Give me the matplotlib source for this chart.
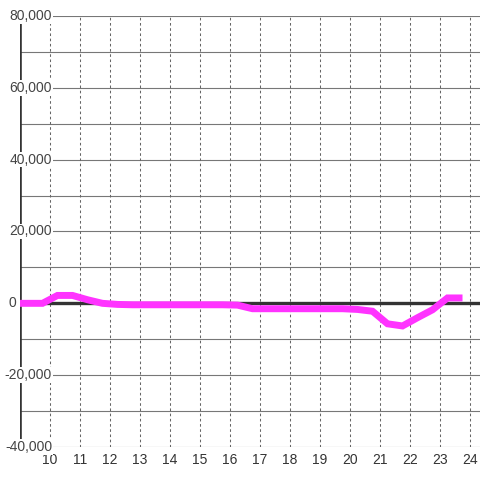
import numpy as np
import matplotlib.pyplot as plt
from matplotlib import transforms

# hour of day vs value
hours = [9.0, 9.75, 10.25, 10.75, 11.25, 11.75, 12.25, 12.75, 13.25, 13.75,
         14.25, 14.75, 15.25, 15.75, 16.25, 16.75, 17.25, 17.75, 18.25, 18.75,
         19.25, 19.75, 20.25, 20.75, 21.25, 21.75, 22.25, 22.75, 23.25, 23.75]
values = [0, 0, 2200, 2200, 1000, 0, -300, -400, -400, -400,
          -400, -400, -400, -400, -500, -1500, -1500, -1500, -1500, -1500,
          -1500, -1500, -1700, -2200, -5700, -6300, -4000, -1800, 1500, 1500]

x_ticks = list(range(10, 25))
y_ticks = [-40000, -20000, 0, 20000, 40000, 60000, 80000]
y_labels = ['-40,000', '-20,000', '0', '20,000', '40,000', '60,000', '80,000']

fig = plt.figure(figsize=(4.8, 4.8), dpi=100)
ax = fig.add_axes([20/480, 33/480, 460/480, 431/480])
ax.set_xlim(9.0, 24.333)
ax.set_ylim(-40000, 80000)

for s in ax.spines.values():
    s.set_visible(False)

# grid
for yv in np.arange(-40000, 80001, 10000):
    ax.axhline(yv, color='#777777', lw=0.8, zorder=1)
for xv in x_ticks:
    ax.axvline(xv, color='#666666', lw=0.75, ls=(0, (2.5, 2.5)), zorder=1)

ax.axhline(0, color='#333333', lw=2.4, zorder=2)
ax.axvline(9.0, color='#333333', lw=2.6, zorder=2)

ax.plot(hours, values, color='#ff33ff', lw=5, solid_joinstyle='miter',
        solid_capstyle='butt', zorder=3)

ax.set_xticks(x_ticks)
ax.set_xticklabels([str(v) for v in x_ticks], fontsize=10, color='#333333',
                   family='Liberation Sans')
ax.tick_params(axis='x', length=0, pad=4)
ax.set_yticks([])

# y labels sit over the axis with white backgrounds
trans = transforms.blended_transform_factory(fig.transFigure, ax.transData)
for yv, lab in zip(y_ticks, y_labels):
    xr = 16/480 if lab == '0' else 52/480
    t = ax.text(xr, yv, lab, transform=trans, ha='right', va='center',
                fontsize=10, color='#444444', family='Liberation Sans',
                zorder=5)
    if lab != '0':
        t.set_bbox(dict(facecolor='white', edgecolor='none', pad=0.5))

fig.savefig('out.png', dpi=100)
